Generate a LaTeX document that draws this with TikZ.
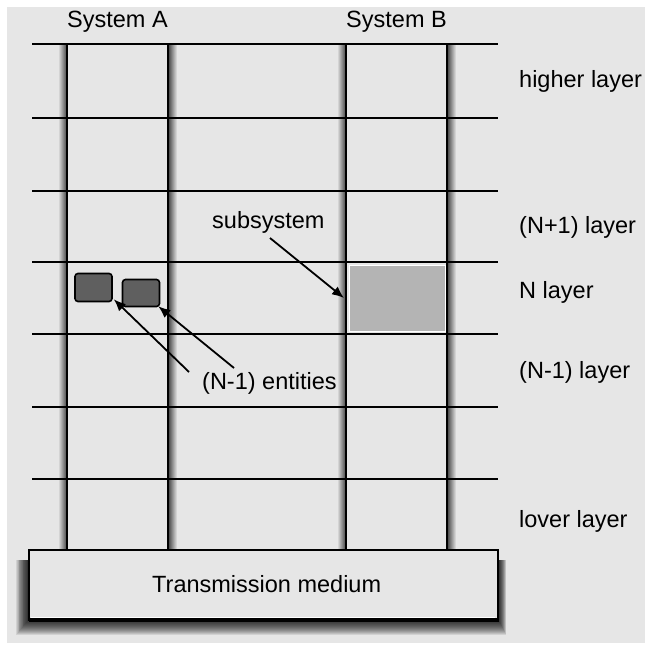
\documentclass[tikz,border=0pt]{standalone}
\usepackage{fontspec}
\setmainfont{Liberation Sans}
\usetikzlibrary{arrows.meta}
\definecolor{bgc}{HTML}{E6E6E6}
\definecolor{entc}{HTML}{5F5F5F}
\definecolor{subc}{HTML}{B4B4B4}
\tikzset{
  layerline/.style={line width=2bp, black},
  colline/.style={line width=2.6bp, black},
  lbl/.style={inner sep=0pt, anchor=base west, font=\fontsize{23.5bp}{28bp}\selectfont},
  clbl/.style={inner sep=0pt, anchor=base, font=\fontsize{23.5bp}{28bp}\selectfont},
  entity/.style={draw=black, line width=1.6bp, fill=entc, rounded corners=3bp},
  pointer/.style={line width=1.8bp, -{Latex[length=12bp,width=10bp]}},
}
\begin{document}
\begin{tikzpicture}[x=1bp, y=-1bp]
\useasboundingbox (0,0) rectangle (645,645);
\fill[white] (0,0) rectangle (645,645);
\fill[bgc] (7,7) rectangle (645,643);

% soft shadows along the outer sides of the two system columns
\shade[left color=bgc, right color=black!75] (58,44) rectangle (67,550);
\shade[left color=black!75, right color=bgc] (168,44) rectangle (177,550);
\shade[left color=bgc, right color=black!75] (337,44) rectangle (346,550);
\shade[left color=black!75, right color=bgc] (447,44) rectangle (456,550);

% subsystem block in the N layer of system B
\node[fill=subc, draw=white, line width=1bp, minimum width=96bp, minimum height=66bp, inner sep=0pt] (sub) at (397.5,298) {};

% layer boundaries
\foreach \yy [count=\k] in {44,118,191,262,334,407,479}
  \draw[layerline] (32,\yy) coordinate (l\k) -- (498,\yy) coordinate (r\k);

% system columns
\draw[colline] (67,550) -- (67,44) -- (168,44) -- (168,550);
\draw[colline] (346,550) -- (346,44) -- (447,44) -- (447,550);

% shadow under the transmission medium
\foreach \i in {1,...,16}
  \fill[black, opacity=0.09] (29-0.8*\i,560) rectangle (498+0.5*\i,619+\i);

% transmission medium
\node[draw=black, line width=2bp, fill=bgc, minimum width=469bp, minimum height=70bp, inner sep=0pt] (tm) at (263.5,585) {};
\draw[white, line width=1bp] (31,617) -- (495,617);
\draw[black, line width=3.5bp] (28.5,620) -- (498.5,620);
\node[lbl] (tmt) at (152,592) {Transmission medium};

% (N-1) entities in system A
\node[entity, minimum width=37bp, minimum height=28bp, inner sep=0pt] (e1) at (93.5,287.5) {};
\node[entity, minimum width=37bp, minimum height=27bp, inner sep=0pt] (e2) at (141,293) {};

% labels
\node[clbl] (sa) at (117.5,28) {System A};
\node[clbl] (sb) at (396.5,28) {System B};
\node[lbl] (hl) at (519,88) {higher layer};
\node[lbl] (np) at (519,233) {(N+1) layer};
\node[lbl] (nl) at (519,298) {N layer};
\node[lbl] (nm) at (519,378) {(N-1) layer};
\node[lbl] (ll) at (519,527) {lover layer};
\node[lbl] (ss) at (212,228) {subsystem};
\node[lbl] (ent) at (202,389) {(N-1) entities};

% pointers
\coordinate (p1) at (189,372);
\coordinate (p2) at (234,368);
\coordinate (p3) at (270,238);
\draw[pointer] (p1) -- ([shift={(1bp,3bp)}]e1.south east);
\draw[pointer] (p2) -- ([shift={(-2bp,1bp)}]e2.south east);
\draw[pointer] (p3) -- ([xshift=-5bp]sub.west);
\end{tikzpicture}
\end{document}
